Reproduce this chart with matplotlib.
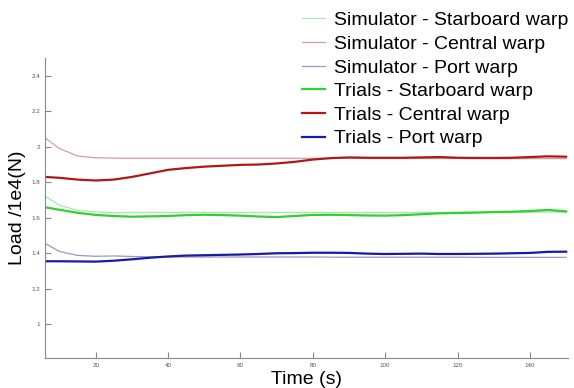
import numpy as np
import matplotlib
matplotlib.use('Agg')
import matplotlib.pyplot as plt

plt.rcParams['font.family'] = ['Liberation Sans', 'DejaVu Sans']

# time samples (s)
t = [6, 10, 15, 20, 25, 30, 35, 40, 45, 50, 55, 60, 65, 70, 75, 80, 85, 90, 95, 100,
     105, 110, 115, 120, 125, 130, 135, 140, 145, 150]

sim_starboard = [1.722, 1.67, 1.642, 1.633, 1.629, 1.630, 1.630, 1.630, 1.631, 1.630, 1.630, 1.630, 1.630, 1.630, 1.630,
                 1.630, 1.630, 1.630, 1.630, 1.630, 1.630, 1.630, 1.630, 1.631, 1.631, 1.631, 1.631, 1.631, 1.632, 1.632]
sim_central = [2.05, 1.99, 1.948, 1.938, 1.936, 1.935, 1.935, 1.935, 1.935, 1.935, 1.935, 1.935, 1.935, 1.935, 1.935,
               1.935, 1.935, 1.935, 1.934, 1.934, 1.934, 1.934, 1.934, 1.934, 1.933, 1.933, 1.933, 1.933, 1.933, 1.933]
sim_port = [1.456, 1.41, 1.388, 1.383, 1.385, 1.382, 1.380, 1.379, 1.379, 1.379, 1.379, 1.379, 1.379, 1.379, 1.379,
            1.379, 1.378, 1.378, 1.378, 1.378, 1.378, 1.378, 1.378, 1.378, 1.377, 1.377, 1.377, 1.377, 1.377, 1.377]

trials_starboard = [1.659, 1.645, 1.628, 1.616, 1.610, 1.606, 1.608, 1.610, 1.615, 1.617, 1.615, 1.612, 1.607, 1.604, 1.610,
                    1.616, 1.617, 1.615, 1.613, 1.612, 1.615, 1.620, 1.625, 1.627, 1.629, 1.632, 1.634, 1.638, 1.644, 1.636]
trials_central = [1.83, 1.825, 1.815, 1.81, 1.815, 1.83, 1.85, 1.87, 1.88, 1.888, 1.893, 1.898, 1.90, 1.906, 1.915,
                  1.928, 1.936, 1.94, 1.938, 1.938, 1.938, 1.94, 1.942, 1.938, 1.937, 1.937, 1.938, 1.942, 1.946, 1.944]
trials_port = [1.355, 1.355, 1.354, 1.353, 1.358, 1.366, 1.375, 1.382, 1.387, 1.389, 1.391, 1.393, 1.396, 1.40, 1.401,
               1.403, 1.403, 1.402, 1.398, 1.396, 1.397, 1.398, 1.396, 1.396, 1.397, 1.398, 1.40, 1.402, 1.408, 1.409]

fig = plt.figure(figsize=(5.74, 3.88), dpi=100)
ax = fig.add_axes([0.0784, 0.0773, 0.9111, 0.7732])

ax.plot(t, sim_starboard, color='#a8e8a8', lw=0.9, label='Simulator - Starboard warp')
ax.plot(t, sim_central, color='#d0a0a0', lw=0.9, label='Simulator - Central warp')
ax.plot(t, sim_port, color='#9898c8', lw=0.9, label='Simulator - Port warp')
ax.plot(t, trials_starboard, color='#2ed12e', lw=1.6, label='Trials - Starboard warp')
ax.plot(t, trials_central, color='#b01818', lw=1.6, label='Trials - Central warp')
ax.plot(t, trials_port, color='#1a1aa8', lw=1.6, label='Trials - Port warp')

ax.set_xlim(6, 150.5)
ax.set_ylim(0.81, 2.5)
ax.set_xticks([20, 40, 60, 80, 100, 120, 140])
ax.set_yticks([1, 1.2, 1.4, 1.6, 1.8, 2, 2.2, 2.4])
ax.set_yticklabels(['1', '1.2', '1.4', '1.6', '1.8', '2', '2.2', '2.4'])
ax.tick_params(direction='in', length=4, width=0.8, colors='#888888', labelsize=4.5, labelcolor='#555555')
for side in ['top', 'right']:
    ax.spines[side].set_visible(False)
for side in ['left', 'bottom']:
    ax.spines[side].set_color('#888888')

ax.set_xlabel('Time (s)', fontsize=14, labelpad=2)
ax.set_ylabel('Load /1e4(N)', fontsize=14, labelpad=4)

fig.legend(loc='upper right', bbox_to_anchor=(1.02, 1.015), frameon=False, fontsize=14,
           handlelength=1.15, handletextpad=0.45, labelspacing=0.31)

fig.savefig('out.png', dpi=100)
